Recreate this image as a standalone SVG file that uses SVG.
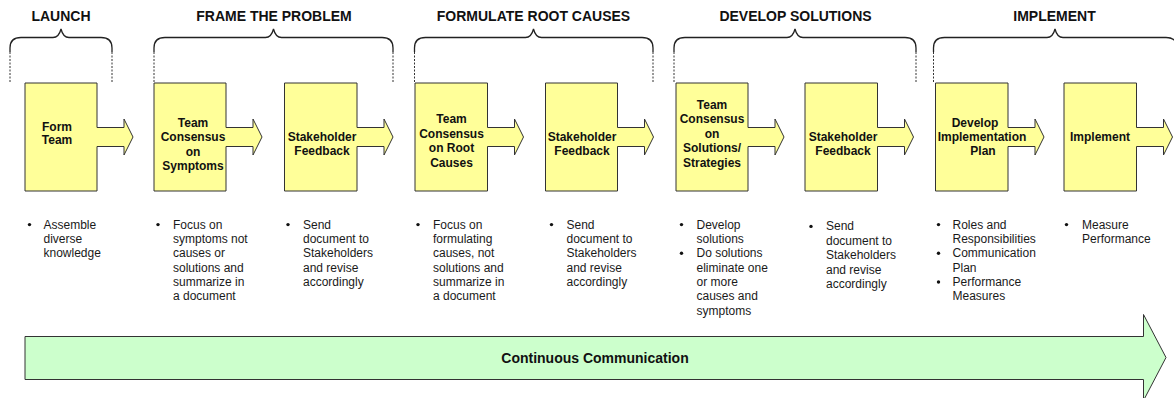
<svg xmlns="http://www.w3.org/2000/svg" width="1174" height="398" viewBox="0 0 1174 398">
  <style>
    .title { font-family: "Liberation Sans", Arial, sans-serif; font-size: 14px; font-weight: bold; fill: #111; text-anchor: middle; }
    .step { fill: #FFFF99; stroke: #333; stroke-width: 1; }
    .label { font-family: "Liberation Sans", Arial, sans-serif; font-size: 12px; font-weight: bold; fill: #111; text-anchor: middle; }
    .note { font-family: "Liberation Sans", Arial, sans-serif; font-size: 12px; fill: #1a1a1a; }
    .dot { fill: #111; }
    .brace { fill: none; stroke: #222; stroke-width: 1.3; }
    .dash { fill: none; stroke: #333; stroke-width: 1; stroke-dasharray: 2 1.5; }
    .band { fill: #CCFFCC; stroke: #333; stroke-width: 1; }
    .bandtext { font-family: "Liberation Sans", Arial, sans-serif; font-size: 14px; font-weight: bold; fill: #111; text-anchor: middle; }
  </style>

  <!-- phase headings -->
  <g id="phase-titles">
    <text class="title" x="61" y="20.5">LAUNCH</text>
    <text class="title" x="274" y="20.5">FRAME THE PROBLEM</text>
    <text class="title" x="533.5" y="20.5">FORMULATE ROOT CAUSES</text>
    <text class="title" x="795.5" y="20.5">DEVELOP SOLUTIONS</text>
    <text class="title" x="1054.5" y="20.5">IMPLEMENT</text>
  </g>

  <!-- curly braces grouping the steps of each phase -->
  <g id="phase-braces">
    <path class="brace" d="M10,52 L10,48 Q10,37.5 21,37.5 L53,37.5 C58,37.5 60,33 61,29 C62,33 64,37.5 69,37.5 L101,37.5 Q112,37.5 112,48 L112,52"/>
    <path class="brace" d="M154,52 L154,48 Q154,37.5 165,37.5 L265.5,37.5 C270.5,37.5 272.5,33 273.5,29 C274.5,33 276.5,37.5 281.5,37.5 L382,37.5 Q393,37.5 393,48 L393,52"/>
    <path class="brace" d="M414.5,52 L414.5,48 Q414.5,37.5 425.5,37.5 L525.5,37.5 C530.5,37.5 532.5,33 533.5,29 C534.5,33 536.5,37.5 541.5,37.5 L642,37.5 Q653,37.5 653,48 L653,52"/>
    <path class="brace" d="M674,52 L674,48 Q674,37.5 685,37.5 L787,37.5 C792,37.5 794,33 795,29 C796,33 798,37.5 803,37.5 L905,37.5 Q916,37.5 916,48 L916,52"/>
    <path class="brace" d="M933.5,52 L933.5,48 Q933.5,37.5 944.5,37.5 L1047,37.5 C1052,37.5 1054,33 1055,29 C1056,33 1058,37.5 1063,37.5 L1166,37.5 Q1177,37.5 1177,48 L1177,52"/>
    <path class="dash" d="M10,52 V83 M112,52 V83 M154,52 V83 M393,52 V83 M414.5,52 V83 M653,52 V83 M674,52 V83 M916,52 V83 M933.5,52 V83"/>
  </g>

  <!-- step boxes with their outgoing arrows -->
  <g id="form-team">
    <path class="step" d="M25,83 H97 V127.5 H124 V119 L133,137 L124,155 V146.5 H97 V191 H25 Z"/>
    <text class="label" x="57" y="130.5">Form</text>
    <text class="label" x="57" y="144.2">Team</text>
  </g>
  <g id="consensus-symptoms">
    <path class="step" d="M154,83 H226 V127.5 H253 V119 L262,137 L253,155 V146.5 H226 V191 H154 Z"/>
    <text class="label" x="193" y="126.8">Team</text>
    <text class="label" x="193" y="141.3">Consensus</text>
    <text class="label" x="193" y="155.7">on</text>
    <text class="label" x="193" y="170.1">Symptoms</text>
  </g>
  <g id="feedback-problem">
    <path class="step" d="M284.5,83 H357 V127.5 H384 V119 L393,137 L384,155 V146.5 H357 V191 H284.5 Z"/>
    <text class="label" x="322" y="141.3">Stakeholder</text>
    <text class="label" x="322" y="155.1">Feedback</text>
  </g>
  <g id="consensus-root-causes">
    <path class="step" d="M415,83 H487.5 V127.5 H514.5 V119 L523.5,137 L514.5,155 V146.5 H487.5 V191 H415 Z"/>
    <text class="label" x="451.5" y="123.4">Team</text>
    <text class="label" x="451.5" y="137.8">Consensus</text>
    <text class="label" x="451.5" y="152.2">on Root</text>
    <text class="label" x="451.5" y="166.6">Causes</text>
  </g>
  <g id="feedback-causes">
    <path class="step" d="M545.5,83 H617.5 V127.5 H644.5 V119 L653.5,137 L644.5,155 V146.5 H617.5 V191 H545.5 Z"/>
    <text class="label" x="582" y="141.3">Stakeholder</text>
    <text class="label" x="582" y="155.1">Feedback</text>
  </g>
  <g id="consensus-solutions">
    <path class="step" d="M676,83 H748 V127.5 H775 V119 L784,137 L775,155 V146.5 H748 V191 H676 Z"/>
    <text class="label" x="712" y="108.6">Team</text>
    <text class="label" x="712" y="123.4">Consensus</text>
    <text class="label" x="712" y="137.8">on</text>
    <text class="label" x="712" y="152.2">Solutions/</text>
    <text class="label" x="712" y="166.6">Strategies</text>
  </g>
  <g id="feedback-solutions">
    <path class="step" d="M805,83 H877.5 V127.5 H904.5 V119 L913.5,137 L904.5,155 V146.5 H877.5 V191 H805 Z"/>
    <text class="label" x="843" y="141.3">Stakeholder</text>
    <text class="label" x="843" y="155.1">Feedback</text>
  </g>
  <g id="implementation-plan">
    <path class="step" d="M935.5,83 H1008 V127.5 H1035 V119 L1044,137 L1035,155 V146.5 H1008 V191 H935.5 Z"/>
    <text class="label" x="975" y="126.6">Develop</text>
    <text class="label" x="982" y="141.1">Implementation</text>
    <text class="label" x="983" y="155.1">Plan</text>
  </g>
  <g id="implement">
    <path class="step" d="M1064,83 H1136.5 V127.5 H1163.5 V119 L1172.5,137 L1163.5,155 V146.5 H1136.5 V191 H1064 Z"/>
    <text class="label" x="1100" y="141.3">Implement</text>
  </g>

  <!-- bulleted notes under each step -->
  <g id="notes">
    <circle class="dot" cx="29.5" cy="224.6" r="1.7"/>
    <text class="note" y="228.6"><tspan x="43.5">Assemble</tspan><tspan x="43.5" dy="14.35">diverse</tspan><tspan x="43.5" dy="14.35">knowledge</tspan></text>

    <circle class="dot" cx="158" cy="224.6" r="1.7"/>
    <text class="note" y="228.6"><tspan x="173">Focus on</tspan><tspan x="173" dy="14.35">symptoms not</tspan><tspan x="173" dy="14.35">causes or</tspan><tspan x="173" dy="14.35">solutions and</tspan><tspan x="173" dy="14.35">summarize in</tspan><tspan x="173" dy="14.35">a document</tspan></text>

    <circle class="dot" cx="288" cy="224.6" r="1.7"/>
    <text class="note" y="228.6"><tspan x="303">Send</tspan><tspan x="303" dy="14.35">document to</tspan><tspan x="303" dy="14.35">Stakeholders</tspan><tspan x="303" dy="14.35">and revise</tspan><tspan x="303" dy="14.35">accordingly</tspan></text>

    <circle class="dot" cx="418" cy="224.6" r="1.7"/>
    <text class="note" y="228.6"><tspan x="433">Focus on</tspan><tspan x="433" dy="14.35">formulating</tspan><tspan x="433" dy="14.35">causes, not</tspan><tspan x="433" dy="14.35">solutions and</tspan><tspan x="433" dy="14.35">summarize in</tspan><tspan x="433" dy="14.35">a document</tspan></text>

    <circle class="dot" cx="551.5" cy="224.6" r="1.7"/>
    <text class="note" y="228.6"><tspan x="566.5">Send</tspan><tspan x="566.5" dy="14.35">document to</tspan><tspan x="566.5" dy="14.35">Stakeholders</tspan><tspan x="566.5" dy="14.35">and revise</tspan><tspan x="566.5" dy="14.35">accordingly</tspan></text>

    <circle class="dot" cx="681.5" cy="224.6" r="1.7"/>
    <circle class="dot" cx="681.5" cy="253.3" r="1.7"/>
    <text class="note" y="228.6"><tspan x="696.5">Develop</tspan><tspan x="696.5" dy="14.35">solutions</tspan><tspan x="696.5" dy="14.35">Do solutions</tspan><tspan x="696.5" dy="14.35">eliminate one</tspan><tspan x="696.5" dy="14.35">or more</tspan><tspan x="696.5" dy="14.35">causes and</tspan><tspan x="696.5" dy="14.35">symptoms</tspan></text>

    <circle class="dot" cx="811" cy="226.4" r="1.7"/>
    <text class="note" y="230.4"><tspan x="826">Send</tspan><tspan x="826" dy="14.45">document to</tspan><tspan x="826" dy="14.45">Stakeholders</tspan><tspan x="826" dy="14.45">and revise</tspan><tspan x="826" dy="14.45">accordingly</tspan></text>

    <circle class="dot" cx="938.5" cy="224.6" r="1.7"/>
    <circle class="dot" cx="938.5" cy="253.3" r="1.7"/>
    <circle class="dot" cx="938.5" cy="282" r="1.7"/>
    <text class="note" y="228.6"><tspan x="952.5">Roles and</tspan><tspan x="952.5" dy="14.35">Responsibilities</tspan><tspan x="952.5" dy="14.35">Communication</tspan><tspan x="952.5" dy="14.35">Plan</tspan><tspan x="952.5" dy="14.35">Performance</tspan><tspan x="952.5" dy="14.35">Measures</tspan></text>

    <circle class="dot" cx="1066.5" cy="224.6" r="1.7"/>
    <text class="note" y="228.6"><tspan x="1082">Measure</tspan><tspan x="1082" dy="14.35">Performance</tspan></text>
  </g>

  <!-- long band arrow running under every phase -->
  <g id="continuous-communication">
    <path class="band" d="M25,336.5 H1143.5 V314.5 L1166,357.5 L1143.5,400.5 V379.5 H25 Z"/>
    <text class="bandtext" x="595" y="362.5">Continuous Communication</text>
  </g>
</svg>
